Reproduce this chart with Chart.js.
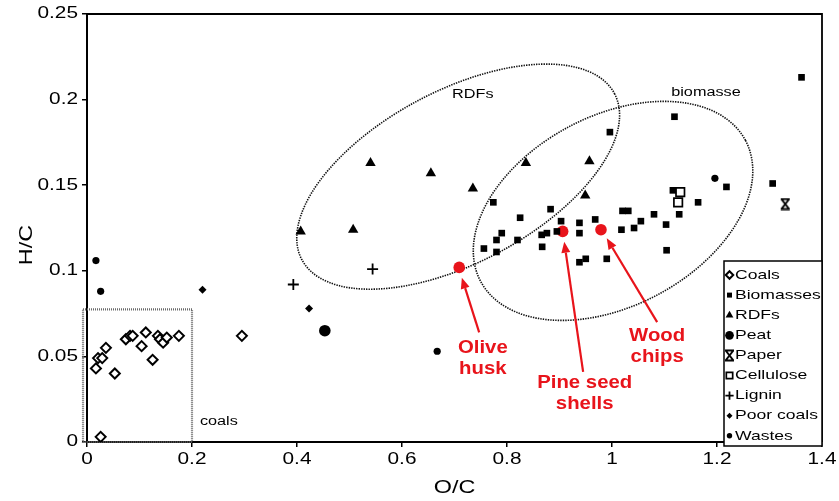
<!DOCTYPE html>
<html>
<head>
<meta charset="utf-8">
<script src="https://cdn.jsdelivr.net/npm/chart.js@4.4.1/dist/chart.umd.min.js"></script>
<style>
  html, body { margin: 0; padding: 0; background: #fff; }
</style>
</head>
<body>
<canvas id="grafico" width="839" height="501"></canvas>
<script>
// eixos
const xTicks = [0, 0.2, 0.4, 0.6, 0.8, 1, 1.2, 1.4];
const xTickLabels = ['0', '0.2', '0.4', '0.6', '0.8', '1', '1.2', '1.4'];
const yTicks = [0, 0.05, 0.1, 0.15, 0.2, 0.25];
const yTickLabels = ['0', '0.05', '0.1', '0.15', '0.2', '0.25'];

// pontos [O/C, H/C]
const coals = [[0.017,0.043],[0.021,0.049],[0.029,0.049],[0.036,0.055],[0.053,0.040],[0.074,0.060],
  [0.082,0.062],[0.087,0.062],[0.104,0.056],[0.112,0.064],[0.125,0.048],[0.135,0.062],[0.139,0.060],
  [0.145,0.058],[0.152,0.061],[0.175,0.062],[0.026,0.003],[0.295,0.062]];
const biomasses = [[0.774,0.140],[0.825,0.131],[0.883,0.136],[0.903,0.129],[0.790,0.122],[0.780,0.118],
  [0.756,0.113],[0.780,0.111],[0.820,0.118],[0.866,0.121],[0.876,0.122],[0.895,0.123],[0.867,0.114],
  [0.938,0.128],[0.938,0.122],[0.968,0.130],[0.938,0.105],[0.950,0.107],[0.990,0.107],[1.020,0.135],
  [1.031,0.135],[1.018,0.124],[1.042,0.125],[1.055,0.129],[1.080,0.133],[1.103,0.127],[1.128,0.133],
  [1.104,0.112],[1.116,0.147],[1.164,0.140],[1.218,0.149],[1.306,0.151],[1.361,0.213],[0.996,0.181],
  [1.119,0.190]];
const rdfs = [[0.540,0.163],[0.655,0.157],[0.735,0.148],[0.407,0.123],[0.507,0.124],[0.836,0.163],
  [0.957,0.164],[0.949,0.144]];
const peat = [[0.453,0.065]];
const paper = [[1.330,0.139]];
const cellulose = [[1.130,0.146],[1.126,0.140]];
const lignin = [[0.393,0.092],[0.544,0.101]];
const poorCoals = [[0.220,0.089],[0.423,0.078]];
const wastes = [[0.017,0.106],[0.026,0.088],[0.667,0.053],[1.196,0.154]];

// amostras destacadas em vermelho
const destaqueNomes = [['Olive', 'husk'], ['Pine seed', 'shells'], ['Wood', 'chips']];
const destaque = [[0.709,0.102],[0.906,0.123],[0.979,0.124]];

const FONTE = '"Liberation Sans", Arial, Helvetica, sans-serif';
const VERMELHO = '#e8141b';
const ESTICA = 1.3; // texto do original e mais largo

// anotacoes (posicoes em unidades dos dados)
const elipses = [
  { cx: 0.707, cy: 0.155, rx: 177, ry: 86, ang: -28 },
  { cx: 1.002, cy: 0.135, rx: 150, ry: 95, ang: -28 }
];
const rotulos = [
  { txt: 'RDFs', x: 0.735, y: 0.2027, align: 'center' },
  { txt: 'biomasse', x: 1.179, y: 0.2039, align: 'center' },
  { txt: 'coals', x: 0.215, y: 0.0117, align: 'left' }
];
const setas = [
  { de: [0.747, 0.064], para: [0.714, 0.096], texto: [0.754, 0.0549] },
  { de: [0.945, 0.041], para: [0.909, 0.117], texto: [0.948, 0.0345] },
  { de: [1.086, 0.070], para: [0.990, 0.119], texto: [1.086, 0.0619] }
];

function pares(lista) { return lista.map(p => ({ x: p[0], y: p[1] })); }

function simboloPapel() {
  const c = document.createElement('canvas');
  c.width = 13; c.height = 13;
  const g = c.getContext('2d');
  g.strokeStyle = '#000';
  g.lineWidth = 2;
  g.beginPath();
  g.moveTo(3, 2); g.lineTo(10, 11);
  g.moveTo(10, 2); g.lineTo(3, 11);
  g.moveTo(2, 1.5); g.lineTo(11, 1.5);
  g.moveTo(2, 11.5); g.lineTo(11, 11.5);
  g.stroke();
  return c;
}

function serie(nome, dados, estilo, raio, fundo, borda, largura) {
  return {
    label: nome, data: pares(dados), pointStyle: estilo, pointRadius: raio,
    pointBackgroundColor: fundo, pointBorderColor: borda, pointBorderWidth: largura,
    pointHoverRadius: raio
  };
}

const datasets = [
  serie('Coals', coals, 'rectRot', 5, '#fff', '#000', 2),
  serie('Biomasses', biomasses, 'rect', 4.7, '#000', '#000', 0),
  serie('RDFs', rdfs, 'triangle', 6, '#000', '#000', 0),
  serie('Peat', peat, 'circle', 5.8, '#000', '#000', 0),
  serie('Paper', paper, simboloPapel(), 6, '#000', '#000', 0),
  serie('Cellulose', cellulose, 'rect', 6, '#fff', '#000', 1.7),
  serie('Lignin', lignin, 'cross', 5.5, '#000', '#000', 1.8),
  serie('Poor coals', poorCoals, 'rectRot', 4, '#000', '#000', 0),
  serie('Wastes', wastes, 'circle', 3.6, '#000', '#000', 0),
  serie('destaque', destaque, 'circle', 5.8, VERMELHO, VERMELHO, 0)
];

function texto(ctx, txt, x, y, fonte, align, sx, rot) {
  ctx.save();
  ctx.font = fonte;
  ctx.translate(x, y);
  if (rot) ctx.rotate(rot);
  ctx.scale(sx, 1);
  ctx.textAlign = align;
  ctx.textBaseline = 'middle';
  ctx.fillText(txt, 0, 0);
  ctx.restore();
}

const desenhos = {
  id: 'desenhos',
  beforeDatasetsDraw(chart) {
    const { ctx, chartArea: a, scales: { x, y } } = chart;
    ctx.save();
    // caixa pontilhada dos carvoes
    ctx.strokeStyle = '#6a6a6a';
    ctx.lineWidth = 2.2;
    ctx.setLineDash([1, 1]);
    ctx.strokeRect(a.left - 4, y.getPixelForValue(0.0775), x.getPixelForValue(0.2) - a.left + 4,
      a.bottom - y.getPixelForValue(0.0775));
    // elipses
    ctx.strokeStyle = '#111';
    ctx.lineWidth = 1.6;
    ctx.setLineDash([1.4, 1.1]);
    elipses.forEach(e => {
      ctx.beginPath();
      ctx.ellipse(x.getPixelForValue(e.cx), y.getPixelForValue(e.cy), e.rx, e.ry, e.ang * Math.PI / 180, 0, Math.PI * 2);
      ctx.stroke();
    });
    ctx.restore();
  },
  afterDraw(chart) {
    const { ctx, chartArea: a, scales: { x, y } } = chart;
    ctx.save();
    // moldura superior e direita
    ctx.strokeStyle = '#000';
    ctx.lineWidth = 1.8;
    ctx.beginPath();
    ctx.moveTo(a.left, a.top);
    ctx.lineTo(a.right, a.top);
    ctx.lineTo(a.right, a.bottom);
    ctx.stroke();

    // rotulos dos eixos
    ctx.fillStyle = '#000';
    xTicks.forEach((v, i) => texto(ctx, xTickLabels[i], x.getPixelForValue(v), a.bottom + 18, '16px ' + FONTE, 'center', ESTICA));
    yTicks.forEach((v, i) => texto(ctx, yTickLabels[i], a.left - 9, y.getPixelForValue(v), '16px ' + FONTE, 'right', ESTICA));
    texto(ctx, 'O/C', (a.left + a.right) / 2, 488, '18px ' + FONTE, 'center', ESTICA);
    texto(ctx, 'H/C', 27, 245, '18px ' + FONTE, 'center', ESTICA, -Math.PI / 2);

    rotulos.forEach(r => texto(ctx, r.txt, x.getPixelForValue(r.x), y.getPixelForValue(r.y), '12.5px ' + FONTE, r.align, ESTICA));

    // setas e nomes em vermelho
    ctx.strokeStyle = VERMELHO;
    ctx.fillStyle = VERMELHO;
    setas.forEach((s, i) => {
      const x0 = x.getPixelForValue(s.de[0]), y0 = y.getPixelForValue(s.de[1]);
      const x1 = x.getPixelForValue(s.para[0]), y1 = y.getPixelForValue(s.para[1]);
      const ang = Math.atan2(y1 - y0, x1 - x0);
      const cab = 11, meia = 4.5;
      const bx = x1 - Math.cos(ang) * cab, by = y1 - Math.sin(ang) * cab;
      ctx.lineWidth = 2.2;
      ctx.beginPath();
      ctx.moveTo(x0, y0);
      ctx.lineTo(bx, by);
      ctx.stroke();
      ctx.beginPath();
      ctx.moveTo(x1, y1);
      ctx.lineTo(bx + Math.sin(ang) * meia, by - Math.cos(ang) * meia);
      ctx.lineTo(bx - Math.sin(ang) * meia, by + Math.cos(ang) * meia);
      ctx.closePath();
      ctx.fill();
      const tx = x.getPixelForValue(s.texto[0]), ty = y.getPixelForValue(s.texto[1]);
      destaqueNomes[i].forEach((linha, j) => texto(ctx, linha, tx, ty + j * 21, 'bold 18px ' + FONTE, 'center', 1.13));
    });

    // legenda
    const L = { x: 724, y: 261, w: 98, h: 185 };
    ctx.fillStyle = '#fff';
    ctx.fillRect(L.x, L.y, L.w, L.h);
    ctx.strokeStyle = '#000';
    ctx.lineWidth = 1.5;
    ctx.strokeRect(L.x, L.y, L.w, L.h);
    const drawPoint = Chart.helpers && Chart.helpers.drawPoint;
    chart.data.datasets.slice(0, 9).forEach((d, i) => {
      const yy = 275 + i * 20.1;
      if (drawPoint) {
        ctx.save();
        ctx.fillStyle = d.pointBackgroundColor;
        ctx.strokeStyle = d.pointBorderColor;
        ctx.lineWidth = d.pointBorderWidth;
        drawPoint(ctx, { pointStyle: d.pointStyle, radius: d.pointRadius * 0.75, rotation: 0, borderWidth: d.pointBorderWidth }, 729.5, yy);
        ctx.restore();
      }
      ctx.fillStyle = '#000';
      texto(ctx, d.label, 735, yy, '13.5px ' + FONTE, 'left', ESTICA);
    });
    ctx.restore();
  }
};

const escala = (min, max, valores) => ({
  type: 'linear', min: min, max: max,
  afterBuildTicks: s => { s.ticks = valores.map(v => ({ value: v })); },
  ticks: { display: false },
  grid: { drawOnChartArea: false, drawTicks: true, tickLength: 5, color: '#000', lineWidth: 1.5 },
  border: { display: true, color: '#000', width: 2 }
});

window.onload = () => {
  new Chart(document.getElementById('grafico'), {
    type: 'scatter',
    data: { datasets: datasets },
    options: {
      responsive: false,
      animation: false,
      devicePixelRatio: 1,
      layout: { padding: { left: 82, top: 14, right: 17, bottom: 54 } },
      scales: { x: escala(0, 1.4, xTicks), y: escala(0, 0.25, yTicks) },
      plugins: { legend: { display: false }, tooltip: { enabled: false } }
    },
    plugins: [desenhos]
  });
};
</script>
</body>
</html>
